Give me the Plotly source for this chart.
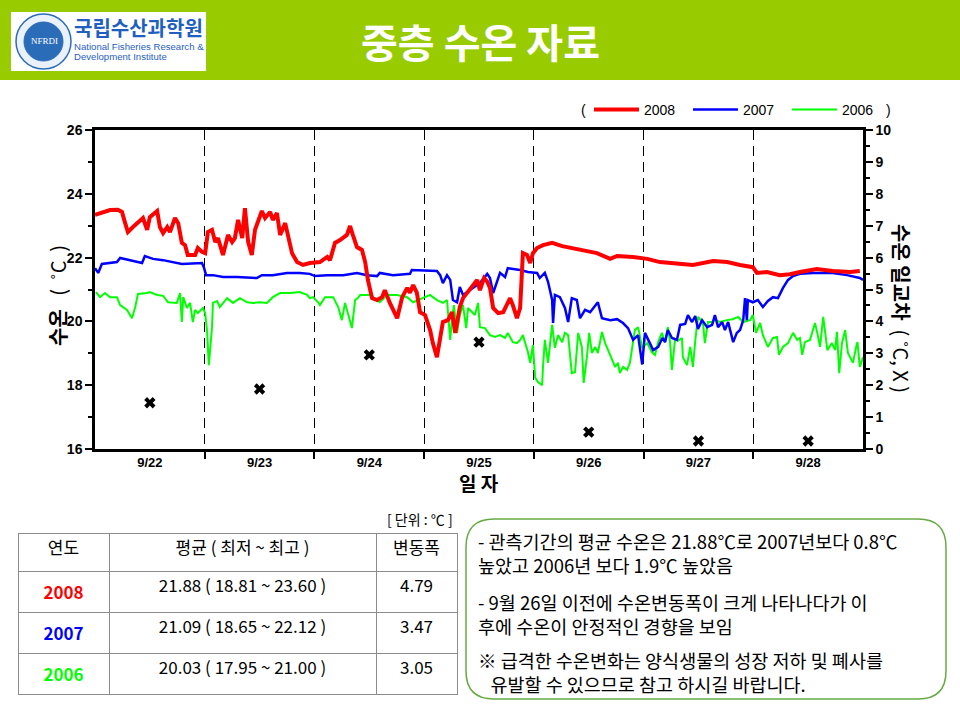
import plotly.graph_objects as go

# ---------------- data ----------------
day_labels = ["9/22", "9/23", "9/24", "9/25", "9/26", "9/27", "9/28"]
day_mid = [12, 36, 60, 84, 108, 132, 156]          # hours since 9/22 00:00
day_bounds = [24, 48, 72, 96, 120, 144]

red_h = [0.0,1.1,3.3,5.0,5.9,6.6,7.2,8.3,9.8,10.5,
         11.4,12.0,13.6,14.2,14.9,15.8,16.4,17.5,18.2,19.0,
         19.7,20.3,21.9,22.5,23.4,24.1,24.7,25.6,26.3,26.9,
         28.0,29.1,30.0,30.6,31.3,32.2,32.8,33.5,34.3,35.0,
         36.5,37.2,38.3,38.9,39.8,40.5,41.6,42.2,43.1,44.2,
         45.5,47.0,49.2,50.8,51.4,52.5,53.6,55.1,55.8,56.4,
         57.3,58.4,59.1,59.7,60.6,61.7,62.8,63.4,64.5,66.1,
         67.2,68.3,68.9,69.6,70.4,71.1,72.2,73.3,73.9,74.8,
         75.5,76.1,77.2,78.1,78.8,79.8,80.5,81.6,82.7,83.6,
         84.2,85.1,85.8,86.4,87.1,88.2,89.3,90.8,91.4,92.3,
         93.0,93.6,94.5,95.2,95.8,96.7,98.0,100.0,102.2,104.6,
         106.8,109.8,112.7,114.2,117.7,120.8,123.6,126.4,130.8,135.2,
         138.3,141.1,143.9,144.8,147.0,149.8,152.0,154.2,157.9,161.4,
         165.2,167.3]
red_t = [23.34,23.40,23.49,23.50,23.43,23.08,22.80,22.96,23.18,23.24,
         22.87,23.27,23.46,22.96,22.77,22.96,22.80,23.24,23.08,22.46,
         22.39,22.08,22.08,22.30,22.18,22.14,22.80,22.87,22.49,22.61,
         22.08,22.71,22.49,22.61,23.18,22.61,23.55,22.49,22.08,22.87,
         23.46,23.24,23.43,23.18,23.40,22.71,23.08,22.71,22.14,21.86,
         21.77,21.83,21.86,22.02,21.92,22.46,22.55,22.71,22.99,22.71,
         22.33,22.24,21.86,21.30,20.73,20.67,20.76,20.98,20.58,20.10,
         20.76,21.05,20.90,21.14,20.90,20.29,20.20,19.73,19.32,18.88,
         19.57,19.98,20.04,20.29,19.64,20.45,20.73,20.92,21.14,21.30,
         20.98,21.36,21.25,21.05,20.42,20.26,20.29,20.73,20.51,20.10,
         20.42,22.14,22.08,21.83,22.14,22.30,22.39,22.46,22.36,22.30,
         22.24,22.14,21.96,22.05,22.02,21.96,21.86,21.83,21.77,21.89,
         21.86,21.77,21.70,21.52,21.55,21.45,21.48,21.55,21.64,21.58,
         21.55,21.58]

blue_h = [0.0,0.7,1.5,3.3,4.8,5.5,7.7,9.8,10.3,10.9,
          12.7,14.9,17.1,19.0,23.4,23.8,24.3,25.8,28.0,31.1,
          35.4,36.5,38.9,42.0,44.8,47.0,48.1,50.8,54.3,57.3,
          59.5,61.7,62.3,65.2,68.9,69.3,74.8,75.5,76.1,77.0,
          77.7,78.3,79.2,79.8,80.5,81.4,82.7,84.2,85.8,86.4,
          87.1,87.9,88.6,89.7,90.3,93.0,94.7,96.7,97.3,98.4,
          99.1,100.0,100.2,100.6,101.7,102.8,103.5,104.3,105.4,106.1,
          107.2,108.3,110.0,110.9,112.7,114.2,115.5,116.6,117.7,118.8,
          119.7,120.3,121.4,122.1,123.2,124.1,124.7,125.3,126.2,127.3,
          128.0,129.1,129.7,130.6,131.3,131.9,132.8,133.9,135.0,135.6,
          136.3,137.2,137.8,138.5,139.6,140.4,141.1,141.8,142.2,142.6,
          142.8,143.9,145.0,146.1,147.2,148.3,149.4,150.5,151.6,152.7,
          154.2,157.1,161.4,164.5,167.3,168.0]
blue_t = [21.67,21.52,21.80,21.83,21.86,21.99,21.92,21.86,21.83,22.05,
          21.96,21.92,21.86,21.80,21.83,21.70,21.45,21.45,21.39,21.39,
          21.36,21.45,21.45,21.52,21.52,21.49,21.42,21.45,21.45,21.52,
          21.45,21.42,21.52,21.45,21.49,21.61,21.58,21.45,21.20,21.45,
          21.30,20.67,20.60,21.08,20.83,20.92,21.05,21.20,21.49,21.36,
          20.89,21.24,21.52,21.39,21.67,21.61,21.55,21.52,21.36,21.52,
          21.24,20.67,19.95,20.83,20.76,20.42,19.98,20.73,20.67,20.10,
          20.36,20.29,20.60,20.10,20.04,20.07,19.95,19.79,19.42,19.57,
          18.65,19.64,19.32,19.10,19.20,19.48,19.35,19.73,19.48,19.42,
          19.89,19.92,20.20,19.98,20.17,19.76,20.04,19.82,19.89,20.20,
          19.82,19.98,19.73,19.98,19.35,19.64,19.73,20.04,20.73,20.04,
          20.67,20.60,20.67,20.45,20.64,20.76,20.73,21.05,21.30,21.42,
          21.49,21.52,21.52,21.45,21.36,21.30]

green_h = [0.2,1.1,2.2,3.3,4.8,5.5,7.0,8.1,8.8,9.4,
           11.4,12.0,13.6,14.9,16.0,17.1,17.9,18.6,19.0,19.3,
           20.1,20.8,21.4,21.9,22.5,23.6,24.1,24.5,24.9,25.6,
           25.8,26.7,27.3,28.9,30.2,31.7,33.3,34.6,36.1,37.6,
           38.9,40.5,42.7,44.8,46.4,47.0,47.7,48.8,49.2,50.3,
           52.1,53.2,54.0,54.7,55.3,56.2,56.9,57.5,58.0,60.2,
           62.3,63.9,66.1,68.3,69.6,71.8,73.3,74.8,76.1,77.0,
           77.7,78.1,78.5,79.2,79.8,80.5,81.2,81.6,82.5,83.1,
           83.8,84.2,85.3,86.4,87.5,88.6,89.7,90.3,91.4,92.3,
           93.0,93.6,94.7,95.2,95.8,96.3,96.9,97.8,98.0,98.4,
           99.1,100.0,100.6,101.3,102.2,102.8,103.5,104.3,105.0,105.7,
           106.5,106.9,107.6,108.1,108.7,109.4,110.0,110.9,111.6,112.2,
           113.1,113.8,114.4,114.8,115.5,116.4,117.0,118.1,118.8,119.7,
           120.8,121.8,122.5,123.2,124.0,124.7,125.3,125.8,126.2,126.9,
           127.5,128.4,128.6,129.5,130.2,130.8,131.3,131.9,133.0,133.4,
           134.1,135.0,135.6,136.7,138.2,139.5,140.7,141.8,143.3,143.9,
           144.6,145.5,146.1,147.2,148.3,149.2,149.6,150.5,151.6,152.7,
           153.6,154.2,154.7,155.3,156.4,157.1,157.5,158.0,158.6,159.3,
           159.7,160.2,161.2,161.9,162.3,162.8,163.4,164.1,164.7,165.8,
           166.6,166.8,167.3,168.0]
green_t = [20.92,20.76,20.89,20.76,20.76,20.51,20.36,20.10,20.45,20.86,
           20.89,20.92,20.83,20.80,20.60,20.58,20.58,20.89,19.98,20.76,
           20.42,20.58,19.98,20.36,20.26,20.42,20.26,19.73,18.63,19.82,
           20.58,20.64,20.45,20.73,20.58,20.73,20.60,20.58,20.60,20.58,
           20.76,20.89,20.89,20.92,20.83,20.73,20.76,20.60,20.51,20.76,
           20.76,20.45,20.04,20.58,20.26,19.79,20.67,20.73,20.83,20.83,
           20.60,20.83,20.83,20.76,20.60,20.73,20.83,20.67,20.58,20.67,
           19.42,20.04,20.51,19.64,20.20,20.51,19.79,20.42,20.29,20.20,
           20.58,19.82,19.79,19.57,19.51,19.57,19.48,19.64,19.35,19.32,
           19.42,19.57,19.04,18.70,19.26,18.23,18.10,18.00,18.57,19.42,
           18.70,19.89,19.17,19.57,19.35,19.64,19.57,18.38,18.41,19.64,
           19.20,18.07,18.88,19.64,19.01,19.20,19.01,19.67,19.32,19.10,
           18.79,18.57,18.70,18.38,18.57,18.48,18.70,19.73,19.82,19.17,
           19.32,19.04,18.95,19.35,19.64,19.35,19.82,19.35,18.48,19.45,
           19.39,19.48,18.88,18.63,19.20,18.57,19.39,20.14,19.95,19.32,
           19.98,19.98,20.04,19.98,20.04,20.07,20.14,19.98,20.04,20.20,
           19.64,19.95,19.57,19.20,19.48,19.51,18.95,19.20,19.32,19.64,
           19.42,19.48,18.95,19.35,19.42,19.73,19.95,19.64,19.20,20.14,
           19.64,19.10,19.32,19.10,19.67,18.38,19.32,19.73,19.01,18.70,
           19.26,19.35,18.57,18.88]

diff_h = [12, 36, 60, 84, 108, 132, 156]
diff_v = [1.45, 1.88, 2.95, 3.35, 0.53, 0.25, 0.25]

table_years = ["2008", "2007", "2006"]
table_mean = [21.88, 21.09, 20.03]
table_min = [18.81, 18.65, 17.95]
table_max = [23.60, 22.12, 21.00]
table_range = [4.79, 3.47, 3.05]

# ---------------- helpers ----------------
W, H = 960, 720
def px(x): return x / W
def py(y): return 1 - y / H

KR = "Noto Sans CJK KR"
AR = "Liberation Sans"
C_RED, C_BLUE, C_GREEN = "#FF0000", "#0000FF", "#00FF00"

fig = go.Figure()
fig.add_trace(go.Scatter(x=green_h, y=green_t, name="2006", mode="lines",
                         line=dict(color=C_GREEN, width=2)))
fig.add_trace(go.Scatter(x=blue_h, y=blue_t, name="2007", mode="lines",
                         line=dict(color=C_BLUE, width=2.5)))
fig.add_trace(go.Scatter(x=red_h, y=red_t, name="2008", mode="lines",
                         line=dict(color=C_RED, width=4)))
fig.add_trace(go.Scatter(x=diff_h, y=diff_v, yaxis="y2", mode="markers", showlegend=False,
                         marker=dict(symbol="x", size=10, color="black")))

year_colors = [C_RED, C_BLUE, C_GREEN]
fig.add_trace(go.Table(
    domain=dict(x=[px(18), px(457)], y=[py(710), py(533)]),
    columnwidth=[91, 267, 81],
    header=dict(values=["연도", "평균 ( 최저 ~ 최고 )", "변동폭"], height=38,
                line=dict(color="#8C8C8C", width=1), fill=dict(color="white"),
                font=dict(family=KR, size=17, color="black"), align="center"),
    cells=dict(values=[["<b>%s</b>" % y for y in table_years],
                       ["%.2f ( %.2f ~ %.2f )" % (m, lo, hi) for m, lo, hi in zip(table_mean, table_min, table_max)],
                       ["%.2f" % r for r in table_range]],
               height=37, line=dict(color="#8C8C8C", width=1), fill=dict(color="white"),
               font=dict(family=KR, size=17, color=[year_colors, ["black"] * 3, ["black"] * 3]),
               align="center"),
))

tickfont = dict(family=AR, size=14, color="black", weight="bold")
fig.update_layout(
    width=W, height=H, margin=dict(l=0, r=0, t=0, b=0, pad=0, autoexpand=False),
    paper_bgcolor="white", plot_bgcolor="white",
    showlegend=True,
    legend=dict(orientation="h", x=px(589), y=py(110), xanchor="left", yanchor="middle",
                traceorder="reversed", entrywidth=39, entrywidthmode="pixels",
                itemwidth=45, bgcolor="rgba(0,0,0,0)",
                font=dict(family=AR, size=14, color="black")),
    xaxis=dict(domain=[px(95), px(863)], range=[0, 168], tickmode="array",
               tickvals=day_mid, ticktext=day_labels, ticks="", showgrid=False,
               zeroline=False, showline=True, linecolor="black", linewidth=2.5, mirror=True,
               tickfont=dict(family=AR, size=13, color="black", weight="bold"),
               minor=dict(tickmode="array", tickvals=day_bounds, ticks="outside", ticklen=7,
                          tickwidth=1.5, tickcolor="black", showgrid=True, gridcolor="black",
                          gridwidth=1, griddash="10px,6px")),
    yaxis=dict(domain=[py(449), py(130)], range=[16, 26], tickmode="array",
               tickvals=[16, 18, 20, 22, 24, 26], ticks="outside", ticklen=7, tickwidth=2,
               tickcolor="black", showgrid=False, zeroline=False, showline=True,
               linecolor="black", linewidth=2.5, tickfont=tickfont,
               minor=dict(tickmode="array", tickvals=[17, 19, 21, 23, 25], ticks="outside",
                          ticklen=4, tickwidth=2, tickcolor="black")),
    yaxis2=dict(overlaying="y", side="right", anchor="x", range=[0, 10], tickmode="array",
                tickvals=list(range(11)), ticks="outside", ticklen=7, tickwidth=2,
                tickcolor="black", showgrid=False, zeroline=False, showline=True,
                linecolor="black", linewidth=2.5, tickfont=tickfont,
                minor=dict(tickmode="array", tickvals=[i + 0.5 for i in range(10)],
                           ticks="outside", ticklen=4, tickwidth=2, tickcolor="black")),
)

# ---------------- slide decoration ----------------
shapes = []
shapes.append(dict(type="rect", xref="paper", yref="paper", x0=0, x1=1, y0=py(80), y1=1,
                   fillcolor="#99CC00", line=dict(width=0), layer="below"))
shapes.append(dict(type="rect", xref="paper", yref="paper", x0=px(11), x1=px(206),
                   y0=py(71), y1=py(12), fillcolor="white", line=dict(width=0)))
shapes.append(dict(type="circle", xref="paper", yref="paper", x0=px(16), x1=px(71),
                   y0=py(69), y1=py(14), fillcolor="#EAF1FA", line=dict(color="#2B6CB8", width=1.5)))
shapes.append(dict(type="circle", xref="paper", yref="paper", x0=px(24), x1=px(63),
                   y0=py(61), y1=py(22), fillcolor="#2B6CB8", line=dict(color="#2B6CB8", width=1)))

def rrect(x0, y0, x1, y1, r):
    p = []
    p.append("M%f,%f" % (px(x0 + r), py(y0)))
    p.append("L%f,%f" % (px(x1 - r), py(y0)))
    p.append("Q%f,%f %f,%f" % (px(x1), py(y0), px(x1), py(y0 + r)))
    p.append("L%f,%f" % (px(x1), py(y1 - r)))
    p.append("Q%f,%f %f,%f" % (px(x1), py(y1), px(x1 - r), py(y1)))
    p.append("L%f,%f" % (px(x0 + r), py(y1)))
    p.append("Q%f,%f %f,%f" % (px(x0), py(y1), px(x0), py(y1 - r)))
    p.append("L%f,%f" % (px(x0), py(y0 + r)))
    p.append("Q%f,%f %f,%f" % (px(x0), py(y0), px(x0 + r), py(y0)))
    return " ".join(p) + " Z"

shapes.append(dict(type="path", xref="paper", yref="paper", path=rrect(466, 519, 946, 699, 28),
                   fillcolor="white", line=dict(color="#66AA44", width=1.5)))
fig.update_layout(shapes=shapes)

def ann(x, y, text, size, color="black", family=KR, xanchor="center", angle=0, weight="normal",
        align="center"):
    fig.add_annotation(x=px(x), y=py(y), xref="paper", yref="paper", text=text,
                       showarrow=False, xanchor=xanchor, yanchor="middle", textangle=angle,
                       align=align,
                       font=dict(family=family, size=size, color=color, weight=weight))

ann(44, 41, "NFRDI", 9, "white", family="Liberation Serif")
ann(72, 28, "국립수산과학원", 20, "#1F5FBF", xanchor="left", weight="bold")
ann(72, 47, "National Fisheries Research &amp;", 9.6, "#1F5FBF", family=AR, xanchor="left")
ann(72, 57, "Development Institute", 9.6, "#1F5FBF", family=AR, xanchor="left")
ann(480, 41, "중층 수온 자료", 40, "white", weight="bold")

ann(583, 110, "(", 14, family=AR)
ann(888, 110, ")", 14, family=AR)

ann(57, 296, "<b>수온</b>   (  ˚C  )", 20, angle=-90)
ann(902, 308, "<b>수온 일교차</b>  ( ˚C, X )", 20, angle=90)
ann(479, 483, "일 자", 19, weight="bold")

ann(455, 519, "[ 단위 : ℃ ]", 14, xanchor="right")

FS = 18.5
ann(476, 553, "- 관측기간의 평균 수온은 21.88℃로 2007년보다 0.8℃<br>높았고 2006년 보다 1.9℃ 높았음",
    FS, xanchor="left", align="left")
ann(476, 614, "- 9월 26일 이전에 수온변동폭이 크게 나타나다가 이<br>후에 수온이 안정적인 경향을 보임",
    FS, xanchor="left", align="left")
ann(476, 672, "※ 급격한 수온변화는 양식생물의 성장 저하 및 폐사를<br>   유발할 수 있으므로 참고 하시길 바랍니다.",
    FS, xanchor="left", align="left")

fig.write_html("out.html", config={"displayModeBar": False},
               post_script="document.body.style.margin='0px';document.body.style.overflow='hidden';")
